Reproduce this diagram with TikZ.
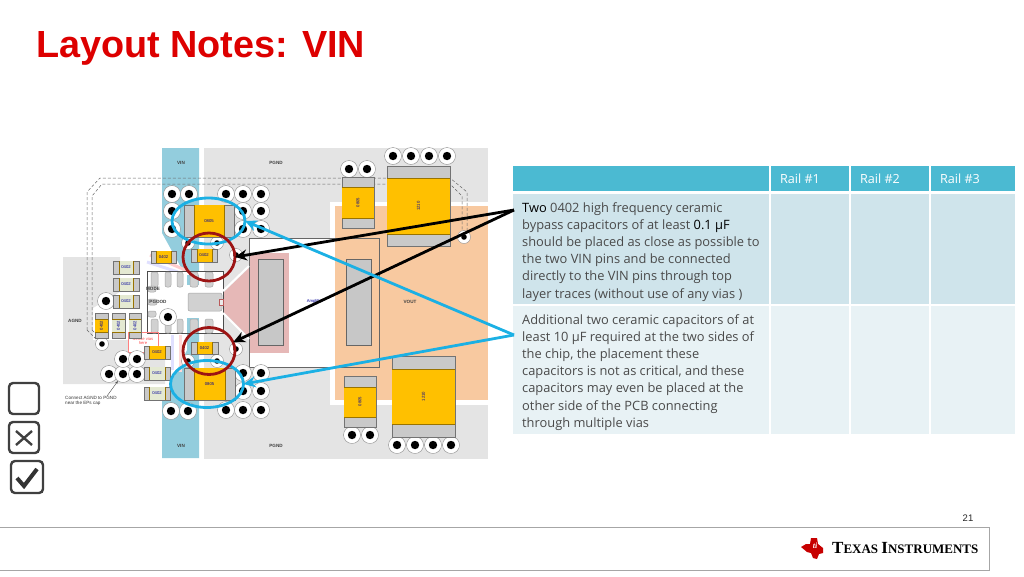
\documentclass[tikz,border=0pt]{standalone}
\usepackage{fontspec}
\setmainfont{Open Sans}
\newfontfamily\arialfont{Liberation Sans}
\newfontfamily\logofont{Liberation Serif}
\usetikzlibrary{arrows.meta,positioning,calc,shapes.geometric}
\definecolor{tiRed}{HTML}{DD0000}
\definecolor{vinBlue}{HTML}{93CDDD}
\definecolor{planeGray}{HTML}{E4E4E4}
\definecolor{voutOrange}{HTML}{F8C9A0}
\definecolor{padPink}{HTML}{E6B8B7}
\definecolor{capBody}{HTML}{C9C9C9}
\definecolor{capBand}{HTML}{FFC000}
\definecolor{capPale}{HTML}{E4E9D2}
\definecolor{headTeal}{HTML}{4BBAD2}
\definecolor{rowDark}{HTML}{CFE4EB}
\definecolor{rowLight}{HTML}{E8F2F5}
\definecolor{noteText}{HTML}{4A4A4A}
\definecolor{arrowBlue}{HTML}{1BB0E4}
\definecolor{ringRed}{HTML}{9C1414}
\begin{document}
\begin{tikzpicture}[
    x=1pt, y=-1pt,
    via/.style={circle, draw=black!45, fill=white, minimum size=17, inner sep=0,
        path picture={\fill[black] (path picture bounding box.center) circle (4.2);}},
    smallvia/.style={circle, draw=black!45, fill=white, minimum size=13, inner sep=0,
        path picture={\fill[black] (path picture bounding box.center) circle (2.8);}},
    capbody/.style={draw=black!55, fill=capBody, line width=0.7},
    capband/.style={draw=capBand!60!black, line width=0.5},
    padbox/.style={draw=black!35, fill=black!18, rounded corners=2, line width=0.5},
    partlabel/.style={font=\arialfont\fontsize{4.2}{4.2}\selectfont, text=blue!60!black, inner sep=0},
    netlabel/.style={font=\arialfont\bfseries\fontsize{4.6}{4.6}\selectfont, text=black!75, inner sep=0},
    note/.style={font=\fontsize{12.85}{17.1}\selectfont, text=noteText, align=left, anchor=north west, inner sep=0},
    railhead/.style={font=\fontsize{12.6}{12.6}\selectfont, text=white, inner sep=0},
    ring/.style={ellipse, draw, line width=2.8, inner sep=0, outer sep=0, fill=none},
    callout/.style={-{Stealth[length=12, width=11]}, line width=2.8},
    tickbox/.style={draw=black!75, line width=2.4, rounded corners=4},
    dashtrace/.style={draw=black!60, densely dashed, line width=0.5},
]
    \useasboundingbox (0,0) rectangle (1024,576);
    \node[font=\arialfont\bfseries\fontsize{37.8}{38}\selectfont, text=tiRed, anchor=base west, inner sep=0] (title) at (36,57.5) {Layout Notes: VIN};

    % board planes
    \fill[planeGray] (63,257) -- (120,257) -- (120,292) -- (93,308) -- (93,340) -- (128,340) -- (128,352) -- (165,352) -- (165,384) -- (63,384) -- cycle;
    \fill[vinBlue] (162,148) -- (199,148) -- (199,458) -- (162,458) -- (162,400) -- (170,385) -- (187,350) -- (187,278) -- (162,233) -- cycle;
    \fill[planeGray] (204,148) -- (488,148) -- (488,459) -- (204,459) -- cycle;
    \fill[white] (330,202) rectangle (488,405);
    \fill[white] (249,238) rectangle (335,367);
    \fill[voutOrange] (335,206) rectangle (488,400);
    \fill[padPink] (249,253) rectangle (289,353);
    \fill[padPink] (249,268) -- (223,293) -- (223,311) -- (249,337) -- cycle;
    \draw[black!60, line width=0.7] (249,238) -- (379,238) -- (379,367) -- (249,367) -- cycle;
    \fill[black!22, draw=black!60, line width=0.7] (258,259) rectangle (283,345);
    \fill[black!22, draw=black!60, line width=0.7] (346,259) rectangle (371,345);
    % pale routed traces
    \draw[red!20, line width=3] (150,255) -- (190,272);
    \draw[blue!12, line width=3] (147,262) -- (178,272);
    \draw[blue!12, line width=3] (172,335) -- (172,370);
    \draw[red!15, line width=3] (180,335) -- (180,372);

    % dashed sense traces
    \draw[dashtrace] (87,330) -- (87,192) -- (100,178) -- (450,178) -- (467,192) -- (467,238);
    \draw[dashtrace] (92,330) -- (92,196) -- (102,184) -- (450,184) -- (462,196) -- (462,232);
    \draw[dashtrace] (87,330) -- (99,342);
    \draw[dashtrace] (92,330) -- (102,340);

    % IC pin area
    \fill[white] (147,271) rectangle (223,333);
    \draw[black!70, line width=0.6] (147,333) -- (147,271) -- (223,271) -- (223,333) -- cycle;
    \fill[vinBlue] (187,275) rectangle (199,285);
    \fill[vinBlue] (187,318) rectangle (199,333);
    \draw[white, line width=2] (223,313) -- (249,339);
    \draw[white, line width=2] (223,291) -- (249,266);
    \foreach \xa/\xb in {151/158,165/171,177/183,190/198,205/213}{
        \draw[padbox] (\xa,272) rectangle (\xb,287);
        \draw[padbox] (\xa,319) rectangle (\xb,333);
    }
    \draw[padbox] (148,286) rectangle (156,292);
    \draw[padbox] (148,299) rectangle (157,305);
    \draw[padbox] (148,311) rectangle (156,317);
    \draw[padbox] (188,293) rectangle (222,311);
    \draw[draw=ringRed!70, fill=black!8, line width=0.5] (219,299) rectangle (223,305);
    \node[netlabel] (mode) at (153,289) {MODE};
    \node[netlabel] (pgood) at (158,302) {PGOOD};

    % red keep out box
    \draw[red!50, line width=0.6] (128,332) rectangle (158,352);
    \node[font=\arialfont\fontsize{4.2}{4.6}\selectfont, text=red!70, align=center, inner sep=0] (keepnote) at (143,341) {Sense vias\\here};

    % vias
    \foreach \vx/\vy [count=\n] in {172/194,189/194,226/194,243/194,261/194,172/211,243/211,261/211,172/229,243/229,261/229,
        349/169,367/169,393/156,411/156,429/156,447/156,
        352/435,370/435,397/445,415/445,433/445,451/445,
        171/411,188/411,226/410,243/410,261/410,243/391,261/391,243/373,261/373,
        106/301,109/374,123/374,137/374,123/359,137/359,168/317}{
        \node[via] (via\n) at (\vx,\vy) {};
    }
    \foreach \vx/\vy/\vname in {188/243/viaA,217/243/viaB,188/361/viaC,217/361/viaD,236/255/viaE,236/349/viaF,102/344/viaG,464/237/viaH}{
        \node[smallvia] (\vname) at (\vx,\vy) {};
    }

    % capacitors with the band across x
    \foreach \xa/\ya/\xb/\yb/\oa/\ob/\band/\lab [count=\n] in {
        184/205/234/237/194/224/capBand/0805,
        184/368/235/400/194/225/capBand/0805,
        191/249/217/262/197/212/capBand/0402,
        151/251/176/263/156/171/capBand/0402,
        191/342/218/354/197/212/capBand/0402,
        144/346/170/359/149/165/capBand/0402,
        113/261/139/274/119/133/capPale/0402,
        113/278/139/291/119/133/capPale/0402,
        113/295/139/308/119/133/capPale/0402,
        144/367/170/380/149/165/capPale/0402,
        144/387/170/400/149/165/capPale/0402}{
        \draw[capbody] (\xa,\ya) rectangle (\xb,\yb);
        \fill[\band] (\oa,\ya) rectangle (\ob,\yb);
        \draw[capband] (\oa,\ya) -- (\oa,\yb) (\ob,\ya) -- (\ob,\yb);
        \node[partlabel] (hcap\n) at ({(\xa+\xb)/2},{(\ya+\yb)/2}) {\lab};
    }
    % capacitors with the band across y
    \foreach \xa/\ya/\xb/\yb/\oa/\ob/\band/\lab [count=\n] in {
        342/177/374/228/187/218/capBand/0805,
        344/376/376/427/387/417/capBand/0805,
        387/166/450/246/178/234/capBand/1210,
        392/356/455/437/369/424/capBand/1210,
        95/313/108/338/319/332/capBand/0402,
        112/313/125/338/319/332/capPale/0402,
        129/313/141/338/319/332/capPale/0402}{
        \draw[capbody] (\xa,\ya) rectangle (\xb,\yb);
        \fill[\band] (\xa,\oa) rectangle (\xb,\ob);
        \draw[capband] (\xa,\oa) -- (\xb,\oa) (\xa,\ob) -- (\xb,\ob);
        \node[partlabel, rotate=90] (vcap\n) at ({(\xa+\xb)/2},{(\ya+\yb)/2}) {\lab};
    }

    % net names
    \node[netlabel] (vinTop) at (181,163) {VIN};
    \node[netlabel] (pgndTop) at (276,163) {PGND};
    \node[netlabel] (vinBot) at (181,446) {VIN};
    \node[netlabel] (pgndBot) at (276,446) {PGND};
    \node[netlabel] (agnd) at (75,321) {AGND};
    \node[netlabel] (vout) at (410,302) {VOUT};
    \node[partlabel] (chipname) at (315,301) {Amplifier};
    \node[font=\arialfont\fontsize{4.6}{5.2}\selectfont, text=black!80, align=left, anchor=north west, inner sep=0] (agndnote) at (65,396) {Connect AGND to PGND\\near the EPs cap};
    \coordinate (agndfoot) at (107,396);
    \draw[-{Stealth[length=3]}, black!70, line width=0.4] (agndfoot) -- (via35);

    % table
    \foreach \xa/\xb in {513/769,771/849,851/929,931/1015}{
        \fill[headTeal] (\xa,166) rectangle (\xb,191);
        \fill[rowDark] (\xa,194) rectangle (\xb,304);
        \fill[rowLight] (\xa,306) rectangle (\xb,434);
    }
    \node[railhead] (railA) at (800,179) {Rail \#1};
    \node[railhead] (railB) at (880,179) {Rail \#2};
    \node[railhead] (railC) at (960,179) {Rail \#3};
    \node[note] (noteTwo) at (522,202.5) {{\color{black}Two} 0402 high frequency ceramic\\bypass capacitors of at least {\color{black}0.1 μF}\\should be placed as close as possible to\\the two VIN pins and be connected\\directly to the VIN pins through top\\layer traces (without use of any vias )};
    \node[note] (noteTen) at (522,314.5) {Additional two ceramic capacitors of at\\least 10 μF required at the two sides of\\the chip, the placement these\\capacitors is not as critical, and these\\capacitors may even be placed at the\\other side of the PCB connecting\\through multiple vias};

    % rings and callouts
    \node[ring, draw=arrowBlue, minimum width=73, minimum height=46] (blueTop) at (208.5,221) {};
    \node[ring, draw=arrowBlue, minimum width=73, minimum height=47] (blueBot) at (207,384) {};
    \node[ring, draw=ringRed, minimum width=52, minimum height=48] (redTop) at (209,257) {};
    \node[ring, draw=ringRed, minimum width=52, minimum height=47] (redBot) at (209,351) {};
    \coordinate (fromTwo) at (514,210);
    \coordinate (fromTen) at (514,335);
    \draw[callout, black] (fromTwo) -- (redTop.east);
    \draw[callout, black] (fromTwo) -- (redBot.20);
    \draw[callout, arrowBlue] (fromTen) -- (blueTop.east);
    \draw[callout, arrowBlue] (fromTen) -- (blueBot.east);

    % tick boxes
    \draw[tickbox] (9,383) rectangle (39,414);
    \draw[tickbox] (9,422) rectangle (39,453);
    \draw[black!75, line width=2.4] (16,431) -- (32,445) (32,431) -- (16,445);
    \draw[tickbox] (11,461) rectangle (43,493);
    \draw[black!80, line width=4] (17,478) -- (24,486) -- (37,469);

    % footer
    \node[font=\arialfont\fontsize{9.5}{9.5}\selectfont, text=black!85, inner sep=0] (pageno) at (968,518) {21};
    \draw[black!35, line width=0.8, fill=white] (-2,527) rectangle (989,570);
    \fill[tiRed!90!black] (801,547) -- (806,544) -- (810,544) -- (811,538) -- (817,538) -- (818,544) -- (823,548) -- (823,553) -- (819,554) -- (817,559) -- (813,558) -- (811,553) -- (807,552) -- cycle;
    \node[font=\logofont\bfseries\itshape\fontsize{8}{8}\selectfont, text=white, inner sep=0] (tiMark) at (815,546) {ti};
    \node[font=\logofont\bfseries, text=black, anchor=base west, inner sep=0] (tiName) at (832,553) {\fontsize{17}{17}\selectfont T\fontsize{13}{13}\selectfont EXAS \fontsize{17}{17}\selectfont I\fontsize{13}{13}\selectfont NSTRUMENTS};
\end{tikzpicture}
\end{document}
